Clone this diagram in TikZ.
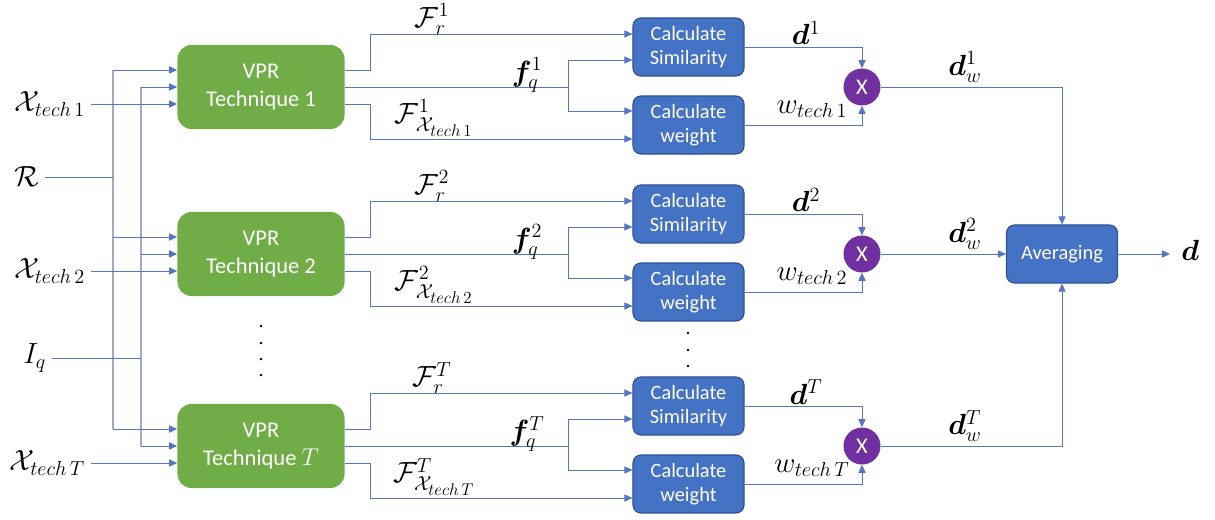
\documentclass[tikz,border=0pt]{standalone}
\usepackage{fontspec}
\usepackage{amsmath}
\usepackage{bm}
\newfontfamily\calibri{Carlito}
\usetikzlibrary{arrows.meta}
\definecolor{TechGreen}{RGB}{112,173,71}
\definecolor{BoxBlue}{RGB}{68,114,196}
\definecolor{BoxEdge}{RGB}{47,82,143}
\definecolor{MulPurple}{RGB}{112,48,160}
\definecolor{WireBlue}{RGB}{84,118,196}
\definecolor{BusGray}{RGB}{160,170,196}

\begin{document}
\begin{tikzpicture}[x=0.025cm, y=-0.025cm,
  tech/.style={fill=TechGreen, rounded corners=0.35cm, minimum width=4.175cm,
    minimum height=2.1cm, text=white, align=center,
    font=\calibri\fontsize{16}{20}\selectfont},
  calc/.style={draw=BoxEdge, line width=0.8pt, fill=BoxBlue, rounded corners=0.2cm,
    minimum width=2.775cm, minimum height=1.45cm, text=white, align=center,
    font=\calibri\fontsize{14.5}{17}\selectfont},
  mul/.style={circle, fill=MulPurple, minimum size=0.925cm, inner sep=0pt,
    text=white, font=\calibri\fontsize{16}{16}\selectfont},
  wire/.style={WireBlue, line width=0.6pt},
  arr/.style={wire, -{Triangle[length=2mm,width=1.8mm]}},
  bus/.style={BusGray, line width=1pt},
  lbl/.style={font=\fontsize{20.74}{24}\selectfont, inner sep=0pt},
  inlbl/.style={lbl, inner sep=4pt, anchor=east}]

  \useasboundingbox (0,0) rectangle (1215,519);

  % --- Input buses ---
  \coordinate (busR)  at (113,70);
  \coordinate (busRe) at (113,429);
  \coordinate (busQ)  at (141,87);
  \coordinate (busQe) at (141,446);
  \draw[bus] (busR) -- (busRe);
  \draw[bus] (busQ) -- (busQe);

  \node[inlbl] (ref) at (45,177) {$\mathcal{R}$};
  \draw[wire] (ref) -- (ref -| busR);
  \node[inlbl] (Iq) at (52,358) {$I_q$};
  \draw[wire] (Iq) -- (Iq -| busQ);

  % --- One row per technique: rows 1, 2 and T ---
  \foreach \row/\yc/\tn in {1/87/1, 2/254/2, T/446/{$T$}} {
    \pgfmathsetmacro{\yA}{\yc - 17}
    \pgfmathsetmacro{\yB}{\yc + 17}
    \pgfmathsetmacro{\yS}{\yc - 53}
    \pgfmathsetmacro{\ySb}{\yc - 27}
    \pgfmathsetmacro{\yWa}{\yc + 24}
    \pgfmathsetmacro{\yWb}{\yc + 52}

    \node[tech] (blk\row) at (261,\yc) {VPR\\Technique \tn};
    \node[calc] (sim\row) at (688.5,\yc-40) {Calculate\\Similarity};
    \node[calc] (wgt\row) at (688.5,\yc+38) {Calculate\\weight};
    \node[mul]  (mul\row) at (862,\yc) {X};

    % inputs
    \draw[arr] (113,\yA) -- (blk\row.west |- 0,\yA);
    \draw[arr] (141,\yc) -- (blk\row.west);
    \node[inlbl] (xt\row) at (91,\yB) {$\mathcal{X}_{tech\,\row}$};
    \draw[arr] (xt\row) -- (blk\row.west |- xt\row);

    % features
    \draw[arr] (blk\row.east |- 0,\yA) -- (370,\yA) |- (sim\row.west |- 0,\yS);
    \coordinate (spl\row) at (568,\yc);
    \draw[wire] (blk\row.east) -- (spl\row);
    \draw[arr] (spl\row) |- (sim\row.west |- 0,\ySb);
    \draw[arr] (spl\row) |- (wgt\row.west |- 0,\yWa);
    \draw[arr] (blk\row.east |- 0,\yB) -- (370,\yB) |- (wgt\row.west |- 0,\yWb);

    % weighting
    \draw[arr] (sim\row.east) -| (mul\row.north);
    \draw[arr] (wgt\row.east) -| (mul\row.south);

    % labels
    \node[lbl] (Fr\row) at (432,\yc-68) {$\mathcal{F}_r^{\row}$};
    \node[lbl] (fq\row) at (527,\yc-12) {$\bm{f}_q^{\row}$};
    \node[lbl] (Fx\row) at (434,\yc+31) {$\mathcal{F}_{\mathcal{X}_{tech\,\row}}^{\row}$};
    \node[lbl] (d\row)  at (806,\yc-54) {$\bm{d}^{\row}$};
    \node[lbl] (w\row)  at (812,\yc+22) {$w_{tech\,\row}$};
    \node[lbl] (dw\row) at (965,\yc-20) {$\bm{d}_w^{\row}$};
  }

  % --- Vertical dots ---
  \foreach \yd in {326,343,359,375} \fill (261,\yd) circle (1pt);
  \foreach \yd in {333,350,366} \fill (688,\yd) circle (1pt);

  % --- Averaging ---
  \node[calc] (avg) at (1062,254) {Averaging};
  \draw[arr] (mul1.east) -| (avg.north);
  \draw[arr] (mul2.east) -- (avg.west);
  \draw[arr] (mulT.east) -| (avg.south);
  \coordinate (out) at (1170,254);
  \draw[arr] (avg.east) -- (out);
  \node[lbl, anchor=west] (dout) at (1181,250) {$\bm{d}$};

\end{tikzpicture}
\end{document}
